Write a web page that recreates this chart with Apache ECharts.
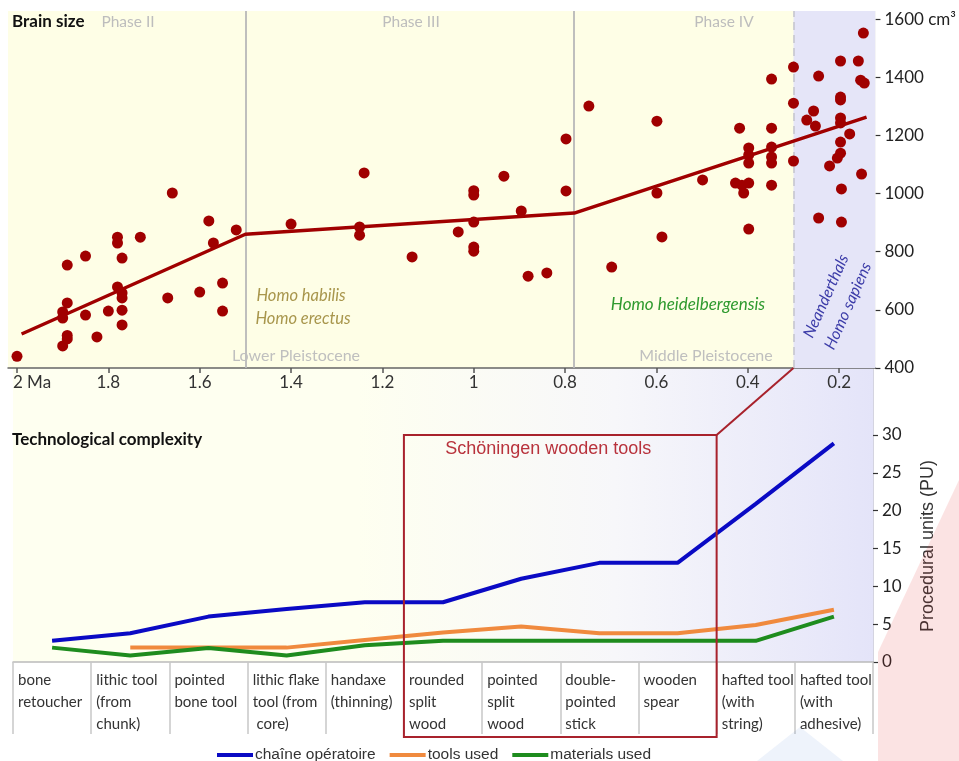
<!DOCTYPE html>
<html><head><meta charset="utf-8">
<script src="https://cdn.jsdelivr.net/npm/echarts@6/dist/echarts.min.js"></script>
<style>html,body{margin:0;padding:0;background:#fff}#c{width:959px;height:761px}</style>
</head><body><div id="c"></div><script>
// ---- Brain size (top panel) ----
const fossilAge = [2.00,1.90,1.89,1.89,1.825,1.90,1.90,1.89,1.85,1.80,1.77,1.77,1.78,1.77,1.77,1.89,1.85,1.78,1.78,1.77,1.73,1.66,1.67,1.60,1.58,1.57,1.55,1.55,1.52,1.40,1.24,1.25,1.25,1.135,1.034,1.00,1.00,1.00,1.00,1.00,
  0.934,0.896,0.881,0.840,0.798,0.798,0.748,0.698,0.599,0.599,0.588,0.499,0.418,0.427,0.413,0.409,0.398,0.398,0.398,0.398,0.398,0.348,0.348,0.348,0.348,0.348,0.348,0.300,0.300,0.300,0.271,0.256,0.252,0.245,0.245,0.221,0.197,0.197,0.197,0.197,0.197,0.197,0.197,0.204,0.195,0.195,0.177,0.158,0.153,0.145,0.147,0.151];
const fossilSize = [440,476,500,512,507,572,593,624,582,596,599,548,679,658,641,754,785,850,830,778,850,1002,641,661,906,830,692,596,875,895,1071,885,857,782,868,1010,995,902,816,802,
  1060,940,716,727,1188,1009,1301,747,1249,1002,851,1047,1225,1036,1029,1002,1036,1157,1133,1105,878,1394,1225,1160,1126,1105,1029,1435,1311,1112,1253,1284,1232,1404,916,1095,1456,1332,1322,1260,1243,1177,1139,1122,1016,902,1205,1456,1390,1380,1552,1067];
const trendAge = [1.99, 1.5, 0.78, 0.14];
const trendSize = [517, 860, 933, 1263];
const ageTicks = [2, 1.8, 1.6, 1.4, 1.2, 1, 0.8, 0.6, 0.4, 0.2];
const sizeTicks = [400, 600, 800, 1000, 1200, 1400, 1600];
const phaseBounds = [1.5, 0.78];
const sapiensStart = 0.3;
const ageMin = 0.1206, ageMax = 2.0197;

// ---- Technological complexity (bottom panel) ----
const toolNames = ['bone\nretoucher','lithic tool\n(from\nchunk)','pointed\nbone tool','lithic flake\ntool (from\n core)','handaxe\n(thinning)','rounded\nsplit\nwood','pointed\nsplit\nwood','double-\npointed\nstick','wooden\nspear','hafted tool\n(with\nstring)','hafted tool\n(with\nadhesive)'];
const chaine = [2.8, 3.8, 6.0, 7.0, 7.9, 7.9, 11.0, 13.1, 13.1, 20.9, 28.9];
const toolsUsed = [null, 1.9, 1.9, 1.9, 2.9, 3.9, 4.7, 3.8, 3.8, 4.9, 6.9];
const materialsUsed = [1.9, 0.85, 1.85, 0.85, 2.2, 2.8, 2.8, 2.8, 2.8, 2.8, 6.0];
const puTicks = [0, 5, 10, 15, 20, 25, 30];
const schoeningenRange = [5, 8];

const chart = echarts.init(document.getElementById('c'));
const F = 'Lato, "Noto Sans", sans-serif';
const A = '"Liberation Sans", Arial, sans-serif';
const dotRed = '#a00000';

const option = {
  animation: false,
  textStyle: { fontFamily: F },
  grid: [
    { left: 8, right: 82, top: 11, height: 357, show: true, backgroundColor: '#fefee6', borderWidth: 0 },
    { left: 13, right: 86, top: 368, bottom: 99, show: true, borderWidth: 0,
      backgroundColor: new echarts.graphic.LinearGradient(0, 0, 1, 0, [
        { offset: 0, color: '#fefff0' }, { offset: 0.4, color: '#fefff0' },
        { offset: 0.7, color: '#f7f7fa' }, { offset: 1, color: '#e4e4f9' }]) }
  ],
  xAxis: [
    { type: 'value', gridIndex: 0, inverse: true, min: ageMin, max: ageMax,
      axisLine: { show: true, lineStyle: { color: '#666', width: 1.5 } },
      axisTick: { show: true, customValues: ageTicks, length: 5, lineStyle: { color: '#555', width: 1.5 } },
      axisLabel: { customValues: ageTicks, margin: 6, color: '#333', fontSize: 17,
        formatter: v => Math.abs(v - 2) < 1e-6 ? '{m|2 Ma}' : String(+v.toFixed(1)),
        rich: { m: { fontSize: 17, color: '#333', padding: [0, 0, 0, 30] } } },
      splitLine: { show: false } },
    { type: 'category', gridIndex: 1, data: toolNames, boundaryGap: true,
      axisLine: { show: true, lineStyle: { color: '#bbb', width: 1.5 } },
      axisTick: { show: true, length: 72, lineStyle: { color: '#c8c8c8', width: 1.5 } },
      axisLabel: { interval: 0, margin: 7,
        formatter: v => v.split('\n').map(s => '{a|' + s + '}').join('\n'),
        rich: { a: { width: 68, align: 'left', fontSize: 15, lineHeight: 22, color: '#333', fontFamily: F } } },
      splitLine: { show: false } }
  ],
  yAxis: [
    { type: 'value', gridIndex: 0, position: 'right', min: 400, max: 1628,
      axisLine: { show: false },
      axisTick: { show: true, customValues: sizeTicks, length: 5, lineStyle: { color: '#333', width: 1.2 } },
      axisLabel: { customValues: sizeTicks, margin: 9, color: '#222', fontSize: 17,
        formatter: v => v === 1600 ? '1600 cm³' : String(v) },
      splitLine: { show: false } },
    { type: 'value', gridIndex: 1, position: 'right', min: 0, max: 38.85,
      axisLine: { show: true, lineStyle: { color: '#d4d4e0', width: 1 } },
      axisTick: { show: true, customValues: puTicks, length: 5, lineStyle: { color: '#333', width: 1.2 } },
      axisLabel: { customValues: puTicks, margin: 9, color: '#222', fontSize: 17 },
      splitLine: { show: false } }
  ],
  legend: {
    data: ['chaîne opératoire', 'tools used', 'materials used'],
    left: 212, top: 742, icon: 'rect', itemWidth: 36, itemHeight: 4, itemGap: 14,
    textStyle: { fontFamily: A, fontSize: 15.5, color: '#333', padding: [0, 0, 0, -3] }
  },
  series: [
    { type: 'scatter', name: 'phases', xAxisIndex: 0, yAxisIndex: 0, z: 1, data: [],
      markArea: { silent: true, data: [[{ xAxis: sapiensStart, itemStyle: { color: '#e5e5f8', opacity: 1 } }, { xAxis: ageMin }]] },
      markLine: { silent: true, symbol: ['none', 'none'], label: { show: false },
        data: [
          { xAxis: phaseBounds[0], lineStyle: { color: '#b8b8b8', width: 1.8, type: 'solid' } },
          { xAxis: phaseBounds[1], lineStyle: { color: '#b8b8b8', width: 1.8, type: 'solid' } },
          { xAxis: sapiensStart, lineStyle: { color: '#c4c4cc', width: 1.5, type: [8, 5] } }
        ] } },
    { type: 'scatter', name: 'fossils', xAxisIndex: 0, yAxisIndex: 0, z: 5,
      data: fossilAge.map((a, i) => [a, fossilSize[i]]),
      symbolSize: 11, itemStyle: { color: dotRed, opacity: 1 } },
    { type: 'line', name: 'trend', xAxisIndex: 0, yAxisIndex: 0, z: 6,
      data: trendAge.map((a, i) => [a, trendSize[i]]),
      showSymbol: false, symbol: 'none', lineStyle: { color: dotRed, width: 3.5 } },
    { type: 'line', name: 'chaîne opératoire', xAxisIndex: 1, yAxisIndex: 1, data: chaine,
      showSymbol: false, symbol: 'none', color: '#0a0ac4', lineStyle: { color: '#0a0ac4', width: 4 } },
    { type: 'line', name: 'tools used', xAxisIndex: 1, yAxisIndex: 1, data: toolsUsed,
      showSymbol: false, symbol: 'none', color: '#f08a3e', lineStyle: { color: '#f08a3e', width: 4 } },
    { type: 'line', name: 'materials used', xAxisIndex: 1, yAxisIndex: 1, data: materialsUsed,
      showSymbol: false, symbol: 'none', color: '#1e8c1e', lineStyle: { color: '#1e8c1e', width: 4 } }
  ]
};
chart.setOption(option);

// annotations, placed from the axes
const txt = (text, x, y, fill, font, extra) => Object.assign({
  type: 'text', x, y, z: 50, silent: true,
  style: { text, fill, font, align: 'center', verticalAlign: 'middle' }
}, extra || {});

const c0 = chart.convertToPixel({ xAxisIndex: 1 }, schoeningenRange[0]);
const c1 = chart.convertToPixel({ xAxisIndex: 1 }, schoeningenRange[0] + 1);
const bw = c1 - c0;
const boxLeft = c0 - bw / 2;
const boxRight = chart.convertToPixel({ xAxisIndex: 1 }, schoeningenRange[1]) + bw / 2;
const boxTop = chart.convertToPixel({ yAxisIndex: 1 }, 30);
const axisY = chart.convertToPixel({ yAxisIndex: 1 }, 0);
const boxBottom = axisY + 75;
const corner = chart.convertToPixel({ xAxisIndex: 0, yAxisIndex: 0 }, [sapiensStart, 400]);
const boxRed = '#a8222c';

chart.setOption({
  graphic: [
    { type: 'text', x: 12, y: 22, z: 50, silent: true, style: { text: 'Brain size', fill: '#111', font: 'bold 17px ' + F, align: 'left', verticalAlign: 'middle' } },
    txt('Phase II', 128, 22, '#bdbdbd', '15.5px ' + F),
    txt('Phase III', 411, 22, '#bdbdbd', '15.5px ' + F),
    txt('Phase IV', 724, 22, '#bdbdbd', '15.5px ' + F),
    txt('Homo habilis', 301, 296, '#a8964c', 'italic 16.5px ' + F),
    txt('Homo erectus', 303, 319, '#a8964c', 'italic 16.5px ' + F),
    txt('Homo heidelbergensis', 688, 305, '#2e9a2e', 'italic 17px ' + F),
    txt('Lower Pleistocene', 296, 356, '#bfbfbf', '16px ' + F),
    txt('Middle Pleistocene', 706, 356, '#bfbfbf', '16px ' + F),
    txt('Neanderthals', 826, 296, '#3c3ca8', 'italic 16px ' + F, { rotation: 66 * Math.PI / 180 }),
    txt('Homo sapiens', 848, 306, '#3c3ca8', 'italic 16px ' + F, { rotation: 66 * Math.PI / 180 }),
    { type: 'text', x: 12, y: 440, z: 50, silent: true, style: { text: 'Technological complexity', fill: '#111', font: 'bold 17px ' + F, align: 'left', verticalAlign: 'middle' } },
    txt('Procedural units (PU)', 928, 546, '#333', '18px ' + A, { rotation: Math.PI / 2 }),
    { type: 'rect', z: 40, silent: true, shape: { x: boxLeft, y: boxTop, width: boxRight - boxLeft, height: boxBottom - boxTop },
      style: { fill: 'none', stroke: boxRed, lineWidth: 2 } },
    { type: 'line', z: 40, silent: true, shape: { x1: boxRight, y1: boxTop, x2: corner[0], y2: corner[1] },
      style: { stroke: boxRed, lineWidth: 2 } },
    txt('Schöningen wooden tools', (boxLeft + boxRight) / 2 - 12, boxTop + 14, '#b8323c', '18px ' + A),
    // faint watermark shapes
    { type: 'polygon', z: 60, silent: true, shape: { points: [[878, 652], [959, 480], [959, 761], [878, 761]] },
      style: { fill: 'rgba(225,60,60,0.14)' } },
    { type: 'polygon', z: 60, silent: true, shape: { points: [[757, 761], [800, 727], [843, 761]] },
      style: { fill: 'rgba(90,140,220,0.10)' } }
  ]
});
</script></body></html>
